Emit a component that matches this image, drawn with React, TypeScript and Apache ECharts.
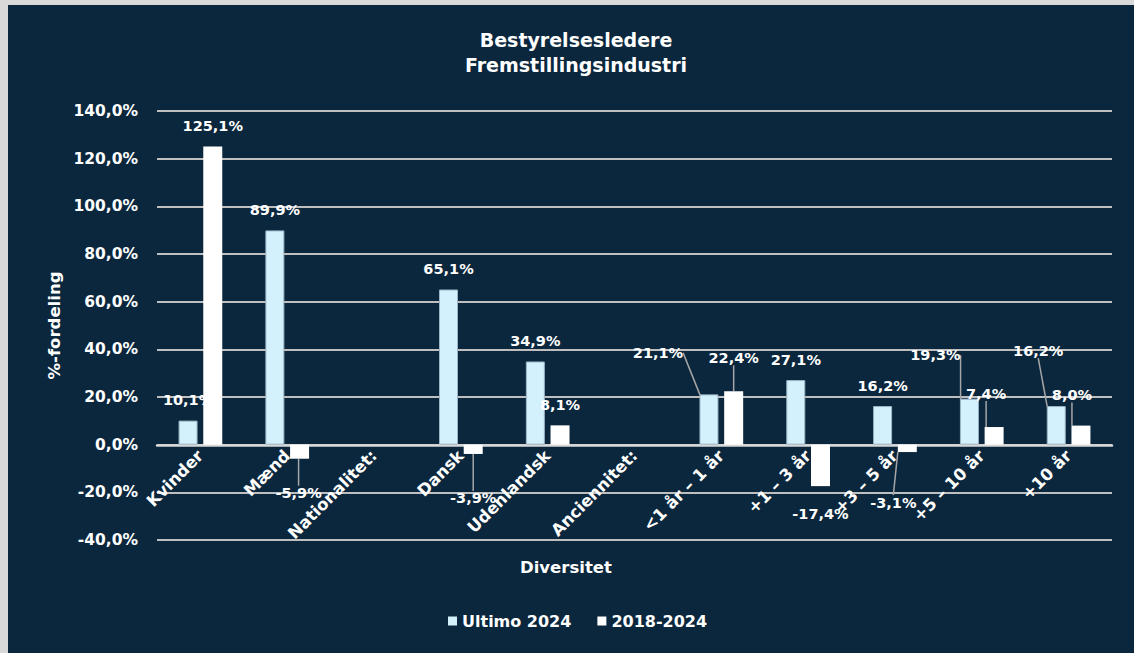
import React, { useEffect, useRef } from "react";
import * as echarts from "echarts";

const categories = [
  "Kvinder",
  "Mænd",
  "Nationalitet:",
  "Dansk",
  "Udenlandsk",
  "Anciennitet:",
  "<1 år – 1 år",
  "+1 – 3 år",
  "+3 – 5 år",
  "+5 – 10 år",
  "+10 år",
];
const ultimo2024 = [10.1, 89.9, null, 65.1, 34.9, null, 21.1, 27.1, 16.2, 19.3, 16.2];
const change2018_2024 = [125.1, -5.9, null, -3.9, 8.1, null, 22.4, -17.4, -3.1, 7.4, 8.0];
const seriesNames = ["Ultimo 2024", "2018-2024"];
const yTicks = { min: -40, max: 140, interval: 20 };

// label displacement (dx, dy, showLeaderLine) in px – styling only
const ultimoLabelShift: (number[] | null)[] = [null, null, null, null, null, null, [-51, -21, 1], null, null, [-34, -23, 1], [-18, -35, 1]];
const changeLabelShift: (number[] | null)[] = [null, [-1, 14, 1], null, [0, 24, 1], null, null, [0, -13, 1], [0, 7, 0], [-14, 30, 1], [-8, -13, 1], [-9, -10, 1]];

const NAVY = "#0b273d";
const LIGHT = "#d3f1fd";
const FONT = "DejaVu Sans";

const fmt = (v: number) => v.toFixed(1).replace(".", ",") + "%";

export default function App() {
  const ref = useRef<HTMLDivElement>(null);
  useEffect(() => {
    document.body.style.margin = "0";
    const chart = echarts.init(ref.current!, undefined, { renderer: "svg" });
    const labelBase = {
      show: true,
      position: "outside",
      distance: 13,
      color: "#ffffff",
      fontFamily: FONT,
      fontWeight: "bold",
      fontSize: 14.5,
      formatter: (p: any) => fmt(p.value),
    };
    const lineStyle = { color: "#a6a6a6", width: 1.5 };
    const mkData = (vals: (number | null)[], shifts: (number[] | null)[]) =>
      vals.map((v, i) => {
        const s = shifts[i];
        return { value: v, labelLine: { show: !!(s && s[2]), lineStyle } };
      });
    const mkLayout = (shifts: (number[] | null)[]) => (p: any) => {
      const s = shifts[p.dataIndex];
      return s ? { dx: s[0], dy: s[1] } : {};
    };
    chart.setOption({
      animation: false,
      backgroundColor: NAVY,
      textStyle: { fontFamily: FONT },
      title: {
        text: "Bestyrelsesledere\nFremstillingsindustri",
        left: 563,
        top: 17,
        textAlign: "center",
        textStyle: {
          color: "#ffffff",
          fontFamily: FONT,
          fontWeight: "bold",
          fontSize: 19,
          lineHeight: 25,
        },
      },
      legend: {
        data: seriesNames,
        left: 435,
        top: 603,
        icon: "rect",
        itemWidth: 9,
        itemHeight: 9,
        itemGap: 26,
        itemStyle: { borderWidth: 0 },
        textStyle: { color: "#ffffff", fontFamily: FONT, fontWeight: "bold", fontSize: 16 },
      },
      grid: { left: 149, right: 22, top: 106, bottom: 113, containLabel: false },
      xAxis: {
        type: "category",
        data: categories,
        offset: -95,
        axisLine: { show: true, onZero: false, lineStyle: { color: "#d9d9d9", width: 2.5 } },
        axisTick: { show: false },
        axisLabel: {
          interval: 0,
          rotate: 45,
          color: "#ffffff",
          fontFamily: FONT,
          fontWeight: "bold",
          fontSize: 16.5,
          margin: 8,
        },
      },
      yAxis: {
        type: "value",
        min: yTicks.min,
        max: yTicks.max,
        interval: yTicks.interval,
        name: "%-fordeling",
        nameLocation: "middle",
        nameGap: 92,
        nameTextStyle: { color: "#ffffff", fontFamily: FONT, fontWeight: "bold", fontSize: 16.5 },
        axisLabel: {
          color: "#ffffff",
          fontFamily: FONT,
          fontWeight: "bold",
          fontSize: 15.5,
          margin: 19,
          formatter: (v: number) => fmt(v),
        },
        splitLine: { lineStyle: { color: "#bfbfbf", width: 2 } },
        axisLine: { show: false },
        axisTick: { show: false },
      },
      graphic: [
        {
          type: "text",
          left: 512,
          top: 554,
          style: {
            text: "Diversitet",
            fill: "#ffffff",
            font: `bold 16.5px ${FONT}`,
          },
        },
      ],
      series: [
        {
          name: seriesNames[0],
          type: "bar",
          data: mkData(ultimo2024, ultimoLabelShift),
          barWidth: 19,
          barGap: "30%",
          itemStyle: { color: LIGHT, borderColor: "#9db4c4", borderWidth: 1 },
          label: labelBase,
          labelLine: { show: false, lineStyle },
          labelLayout: mkLayout(ultimoLabelShift),
        },
        {
          name: seriesNames[1],
          type: "bar",
          data: mkData(change2018_2024, changeLabelShift),
          barWidth: 19,
          itemStyle: { color: "#ffffff" },
          label: labelBase,
          labelLine: { show: false, lineStyle },
          labelLayout: mkLayout(changeLabelShift),
        },
      ],
    });
    return () => chart.dispose();
  }, []);
  return (
    <div style={{ position: "relative", width: 1134, height: 653, background: "#d9d9d9" }}>
      <div
        ref={ref}
        style={{ position: "absolute", left: 8, top: 5, width: 1126, height: 648 }}
      />
    </div>
  );
}
